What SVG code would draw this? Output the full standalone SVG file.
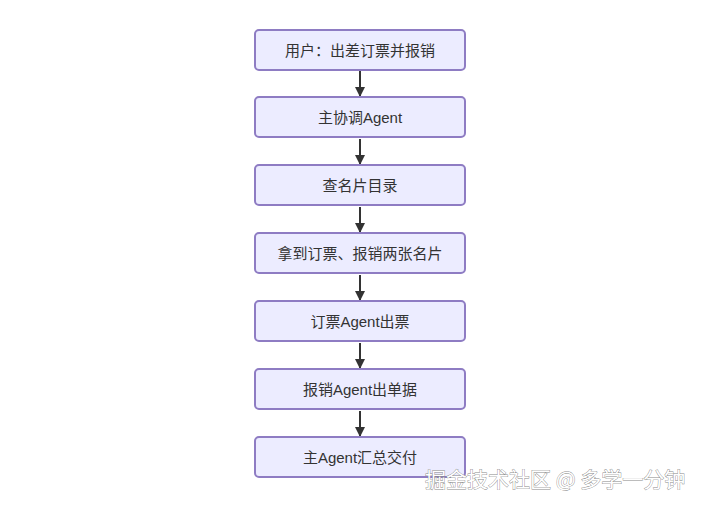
<svg xmlns="http://www.w3.org/2000/svg" width="720" height="506" viewBox="0 0 720 506">
<style>
.n rect{fill:#ECECFF;stroke:#8E7CC3;stroke-width:2}
.n text{font-family:"Liberation Sans","Noto Sans CJK SC",sans-serif;font-size:15px;fill:#333;text-anchor:middle;dominant-baseline:central}
.c line{stroke:#333;stroke-width:2;marker-end:url(#a)}
.wm{font-family:"Noto Sans CJK SC",sans-serif;font-size:21px;fill:#fff;stroke:#888;stroke-width:0.8;paint-order:stroke}
</style>
<defs><marker id="a" markerWidth="10" markerHeight="10" refX="9" refY="5" orient="auto" markerUnits="userSpaceOnUse"><path d="M0,0L10,5L0,10z" fill="#333"/></marker></defs>
<rect width="720" height="506" fill="#fff"/>
<g class="c">
<line x1="360" y1="71" x2="360" y2="96"/>
<line x1="360" y1="139" x2="360" y2="164"/>
<line x1="360" y1="207" x2="360" y2="232"/>
<line x1="360" y1="275" x2="360" y2="300"/>
<line x1="360" y1="343" x2="360" y2="368"/>
<line x1="360" y1="411" x2="360" y2="436"/>
</g>
<g id="n1" class="n"><rect x="255" y="30" width="210" height="40" rx="4"/><text x="360" y="50">用户：出差订票并报销</text></g>
<g id="n2" class="n"><rect x="255" y="97" width="210" height="40" rx="4"/><text x="360" y="117">主协调Agent</text></g>
<g id="n3" class="n"><rect x="255" y="165" width="210" height="40" rx="4"/><text x="360" y="185">查名片目录</text></g>
<g id="n4" class="n"><rect x="255" y="233" width="210" height="40" rx="4"/><text x="360" y="253">拿到订票、报销两张名片</text></g>
<g id="n5" class="n"><rect x="255" y="301" width="210" height="40" rx="4"/><text x="360" y="321">订票Agent出票</text></g>
<g id="n6" class="n"><rect x="255" y="369" width="210" height="40" rx="4"/><text x="360" y="389">报销Agent出单据</text></g>
<g id="n7" class="n"><rect x="255" y="437" width="210" height="40" rx="4"/><text x="360" y="457">主Agent汇总交付</text></g>
<text class="wm" x="425" y="487">掘金技术社区 @ 多学一分钟</text>
</svg>
